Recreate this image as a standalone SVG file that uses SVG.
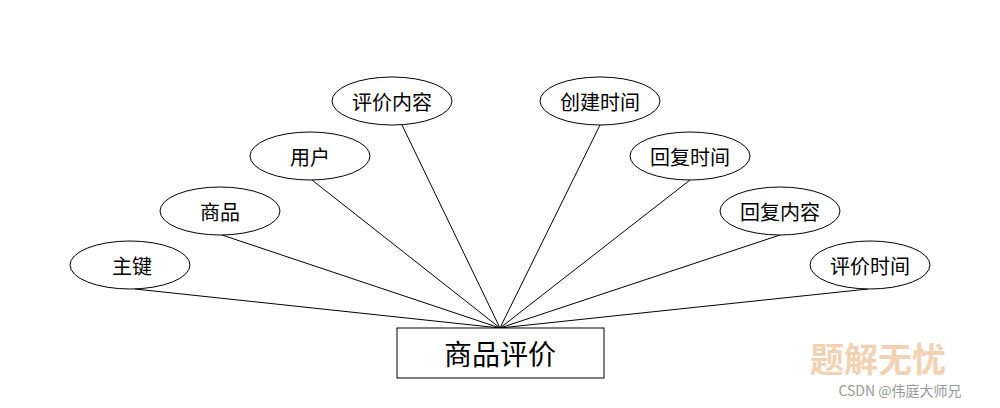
<svg xmlns="http://www.w3.org/2000/svg" width="1000" height="408" viewBox="0 0 1000 408">
<style>
.e{fill:#fff;stroke:#000;stroke-width:1}
.t{font-family:"Noto Sans CJK SC",sans-serif;font-size:20px;text-anchor:middle;dominant-baseline:central;fill:#000}
.c line{stroke:#000;stroke-width:1}
</style>
<rect width="1000" height="408" fill="#fff"/>
<g class="c">
<line x1="135" y1="289" x2="500" y2="328"/>
<line x1="222" y1="235" x2="500" y2="328"/>
<line x1="312" y1="180" x2="500" y2="328"/>
<line x1="402" y1="125" x2="500" y2="328"/>
<line x1="600" y1="125" x2="500" y2="328"/>
<line x1="690" y1="180" x2="500" y2="328"/>
<line x1="780" y1="235" x2="500" y2="328"/>
<line x1="868" y1="289" x2="500" y2="328"/>
</g>
<g id="n1"><ellipse class="e" cx="130" cy="265" rx="60" ry="24"/><text class="t" x="132" y="265">主键</text></g>
<g id="n2"><ellipse class="e" cx="220" cy="211" rx="60" ry="24"/><text class="t" x="220" y="211">商品</text></g>
<g id="n3"><ellipse class="e" cx="310" cy="156" rx="60" ry="24"/><text class="t" x="310" y="156">用户</text></g>
<g id="n4"><ellipse class="e" cx="392" cy="101" rx="60" ry="24"/><text class="t" x="392" y="101">评价内容</text></g>
<g id="n5"><ellipse class="e" cx="600" cy="101" rx="60" ry="24"/><text class="t" x="600" y="101">创建时间</text></g>
<g id="n6"><ellipse class="e" cx="690" cy="156" rx="60" ry="24"/><text class="t" x="690" y="156">回复时间</text></g>
<g id="n7"><ellipse class="e" cx="780" cy="211" rx="60" ry="24"/><text class="t" x="780" y="211">回复内容</text></g>
<g id="n8"><ellipse class="e" cx="870" cy="265" rx="60" ry="24"/><text class="t" x="870" y="265">评价时间</text></g>
<g id="main"><rect x="397" y="328" width="207" height="50" fill="#fff" stroke="#000"/><text class="t" x="500" y="353" style="font-size:28px">商品评价</text></g>
<text x="878" y="372" font-family="Noto Sans CJK SC,sans-serif" font-size="34" font-weight="bold" fill="#f0c8a0" text-anchor="middle" opacity="0.8">题解无忧</text>
<text x="900" y="396" font-family="Noto Sans CJK SC,sans-serif" font-size="14" fill="#999" text-anchor="middle">CSDN @伟庭大师兄</text>
</svg>
